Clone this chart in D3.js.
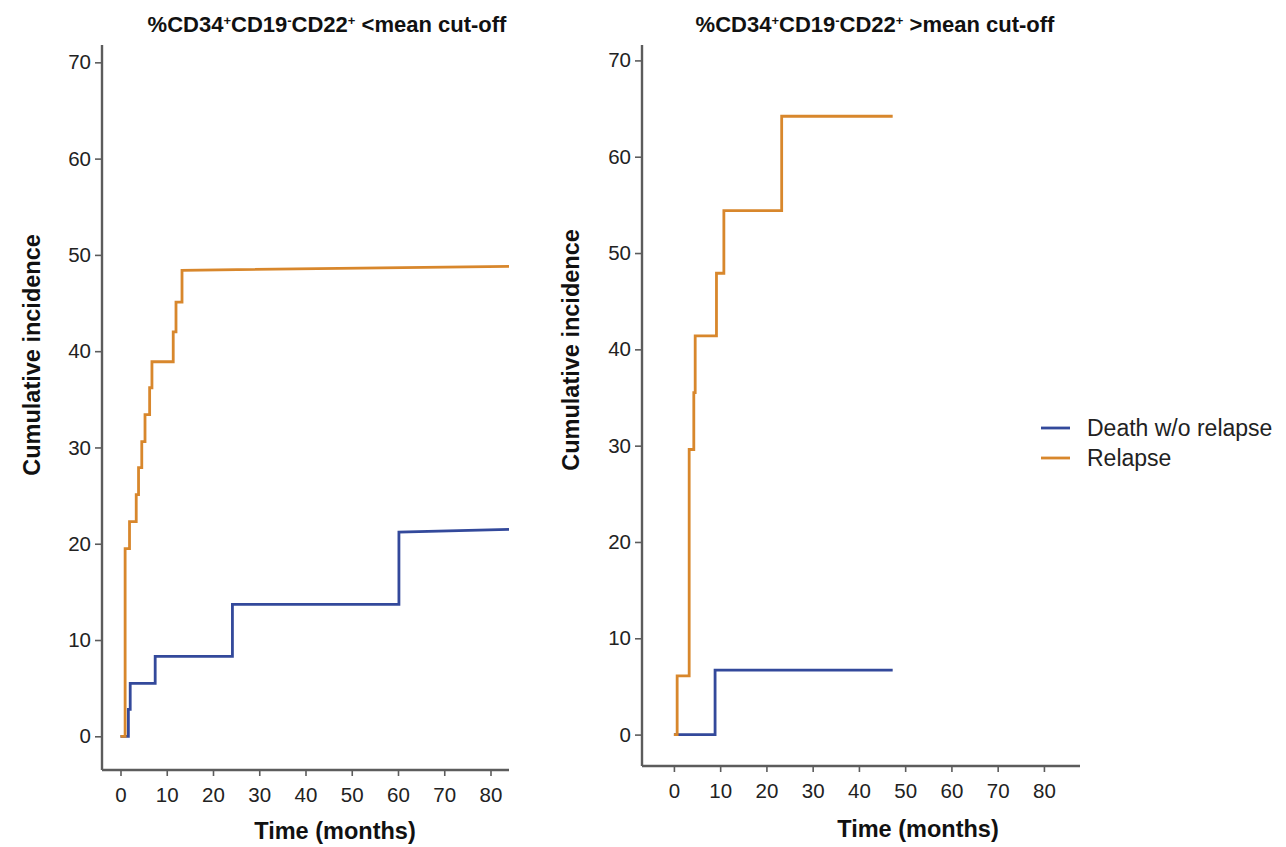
<!DOCTYPE html>
<html><head><meta charset="utf-8">
<script src="https://cdn.jsdelivr.net/npm/d3@7"></script>
<style>
body{margin:0;background:#fff;}
text{font-family:"Liberation Sans",Arial,sans-serif;}
</style></head>
<body><svg id="c" width="1286" height="847"></svg>
<script>
// ---- data ----
const seriesNames = ["Death w/o relapse", "Relapse"];
const seriesColors = ["#33499b", "#d8872c"];
const xTicks = [0, 10, 20, 30, 40, 50, 60, 70, 80];
const yTicks = [0, 10, 20, 30, 40, 50, 60, 70];

// left panel: < mean cut-off
const leftDeathTime   = [0, 1.7, 2.1, 7.5, 24.2, 60.2, 84];
const leftDeathCI     = [0, 2.8, 5.5, 8.3, 13.7, 21.2, 21.5];
const leftRelapseTime = [0, 1.0, 1.95, 3.4, 3.9, 4.6, 5.3, 6.3, 6.8, 11.4, 12.0, 13.3, 84];
const leftRelapseCI   = [0, 19.5, 22.3, 25.1, 27.9, 30.6, 33.4, 36.2, 38.9, 42.0, 45.1, 48.4, 48.8];

// right panel: > mean cut-off
const rightDeathTime   = [0, 8.9, 47.3];
const rightDeathCI     = [0, 6.7, 6.7];
const rightRelapseTime = [0, 0.7, 3.3, 4.3, 4.6, 9.2, 10.8, 23.3, 47.3];
const rightRelapseCI   = [0, 6.1, 29.6, 35.5, 41.4, 47.9, 54.4, 64.2, 64.2];

const svg = d3.select("#c");

function title(g, cx, y, cmp) {
  const t = g.append("text").attr("x", cx).attr("y", y).attr("text-anchor", "middle")
    .attr("font-weight", "bold").attr("font-size", 22).attr("fill", "#111");
  const parts = [["%CD34", 0], ["+", 1], ["CD19", 0], ["-", 1], ["CD22", 0], ["+", 1], [" " + cmp + "mean cut-off", 0]];
  parts.forEach(([s, sup]) => {
    const ts = t.append("tspan").text(s);
    if (sup) ts.attr("font-size", 13).attr("baseline-shift", "7");
  });
}

function panel(opt) {
  const g = svg.append("g");
  const x = d3.scaleLinear().domain(opt.xDomain).range(opt.xRange);
  const y = d3.scaleLinear().domain(opt.yDomain).range(opt.yRange);
  const axisColor = "#5c5c5c";

  // y axis
  const ya = g.append("g").attr("transform", `translate(${opt.xRange[0]},0)`)
    .call(d3.axisLeft(y).tickValues(yTicks).tickSize(7).tickPadding(4));
  ya.select(".domain").attr("stroke", axisColor).attr("stroke-width", 2.4)
    .attr("d", `M0,${opt.yRange[0]}V${opt.yRange[1]}`);
  ya.selectAll(".tick line").attr("stroke", axisColor).attr("stroke-width", 1.6);
  ya.selectAll(".tick text").attr("font-size", 20.5).attr("fill", "#222")
    .attr("font-family", "Liberation Sans, Arial, sans-serif");

  // x axis
  const xa = g.append("g").attr("transform", `translate(0,${opt.yRange[0]})`)
    .call(d3.axisBottom(x).tickValues(xTicks).tickSize(6).tickPadding(11));
  xa.select(".domain").attr("stroke", axisColor).attr("stroke-width", 2.4)
    .attr("d", `M${opt.xRange[0]},0H${opt.xRange[1]}`);
  xa.selectAll(".tick line").attr("stroke", axisColor).attr("stroke-width", 1.6);
  xa.selectAll(".tick text").attr("font-size", 20.5).attr("fill", "#222")
    .attr("font-family", "Liberation Sans, Arial, sans-serif");

  // curves: step-after, final segment straight
  const line = d3.line().x(d => x(d[0])).y(d => y(d[1]));
  opt.series.forEach((s, k) => {
    const pts = [[s.t[0], s.v[0]]];
    for (let i = 1; i < s.t.length; i++) {
      if (i < s.t.length - 1) {
        pts.push([s.t[i], s.v[i - 1]]);
        pts.push([s.t[i], s.v[i]]);
      } else {
        pts.push([s.t[i], s.v[i]]);
      }
    }
    g.append("path").datum(pts).attr("d", line).attr("fill", "none")
      .attr("stroke", seriesColors[k]).attr("stroke-width", 2.8)
      .attr("stroke-linejoin", "miter");
  });

  // axis titles
  g.append("text").attr("x", opt.xLabelX).attr("y", opt.xLabelY).attr("text-anchor", "middle")
    .attr("font-weight", "bold").attr("font-size", 23.5).attr("fill", "#111").text("Time (months)");
  g.append("text").attr("transform", `translate(${opt.yLabelX},${opt.yLabelY}) rotate(-90)`)
    .attr("text-anchor", "middle").attr("font-weight", "bold").attr("font-size", 23.5)
    .attr("fill", "#111").text("Cumulative incidence");
  title(g, opt.titleX, opt.titleY, opt.cmp);
}

panel({
  xDomain: [-4, 84], xRange: [102, 509],
  yDomain: [-3.5, 71.8], yRange: [770, 45],
  series: [{t: leftDeathTime, v: leftDeathCI}, {t: leftRelapseTime, v: leftRelapseCI}],
  xLabelX: 335, xLabelY: 839, yLabelX: 40, yLabelY: 355,
  titleX: 327, titleY: 32, cmp: "<"
});
panel({
  xDomain: [-6.9, 87.8], xRange: [642, 1080],
  yDomain: [-3.26, 71.6], yRange: [766, 45],
  series: [{t: rightDeathTime, v: rightDeathCI}, {t: rightRelapseTime, v: rightRelapseCI}],
  xLabelX: 918, xLabelY: 837, yLabelX: 579, yLabelY: 350,
  titleX: 875, titleY: 32, cmp: ">"
});

// legend
const lg = svg.append("g");
seriesNames.forEach((n, i) => {
  const yy = 428 + i * 30;
  lg.append("line").attr("x1", 1041).attr("x2", 1070).attr("y1", yy).attr("y2", yy)
    .attr("stroke", seriesColors[i]).attr("stroke-width", 2.8);
  lg.append("text").attr("x", 1087).attr("y", yy + 8).attr("font-size", 23)
    .attr("fill", "#222").text(n);
});
</script></body></html>
